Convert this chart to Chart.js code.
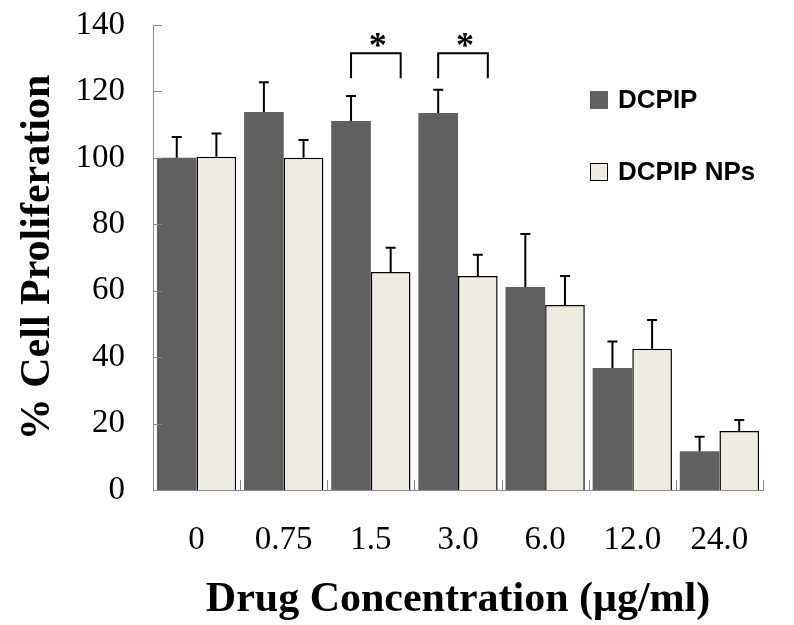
<!DOCTYPE html>
<html>
<head>
<meta charset="utf-8">
<script src="https://cdn.jsdelivr.net/npm/chart.js@4"></script>
<style>
  html, body { margin: 0; padding: 0; background: #fff; }
</style>
</head>
<body>
<canvas id="barchart" width="794" height="625"></canvas>
<script>
// data
const concentrations = ['0', '0.75', '1.5', '3.0', '6.0', '12.0', '24.0'];
const dcpip = [100, 113.8, 111.1, 113.5, 61.1, 36.7, 11.7];
const dcpipErr = [6.3, 9, 7.5, 7, 16, 8, 4.3];
const dcpipNPs = [100.3, 100, 65.6, 64.4, 55.7, 42.5, 17.8];
const dcpipNPsErr = [7, 5.4, 7.3, 6.4, 8.7, 8.7, 3.3];
const yTicks = [0, 20, 40, 60, 80, 100, 120, 140];
const sigGroups = ['1.5', '3.0']; // groups marked with *
const bracketTop = 131.5;
const bracketLeg = 124;

const serif = '"Liberation Serif", "Times New Roman", serif';

// error bars (upper only), significance brackets, inner ticks, legend
const extras = {
  id: 'extras',
  afterDatasetsDraw(chart) {
    const c = chart.ctx;
    const y = chart.scales.y;
    const area = chart.chartArea;
    c.save();

    // inner ticks on axes
    c.strokeStyle = '#888';
    c.lineWidth = 1;
    yTicks.forEach(v => {
      const py = Math.round(y.getPixelForValue(v)) + 0.5;
      c.beginPath(); c.moveTo(area.left, py); c.lineTo(area.left + 9, py); c.stroke();
    });
    for (let i = 1; i <= concentrations.length; i++) {
      const px = Math.round(area.left + (area.right - area.left) * i / concentrations.length) + 0.5;
      c.beginPath(); c.moveTo(px, area.bottom); c.lineTo(px, area.bottom - 10); c.stroke();
    }

    // error bars
    c.strokeStyle = '#000';
    c.lineWidth = 2;
    [dcpipErr, dcpipNPsErr].forEach((errs, di) => {
      const meta = chart.getDatasetMeta(di);
      const vals = chart.data.datasets[di].data;
      meta.data.forEach((bar, i) => {
        const top = y.getPixelForValue(vals[i]);
        const end = y.getPixelForValue(vals[i] + errs[i]);
        c.beginPath();
        c.moveTo(bar.x, top); c.lineTo(bar.x, end);
        c.moveTo(bar.x - 5, end); c.lineTo(bar.x + 5, end);
        c.stroke();
      });
    });

    // significance brackets
    const m0 = chart.getDatasetMeta(0), m1 = chart.getDatasetMeta(1);
    sigGroups.forEach(g => {
      const i = concentrations.indexOf(g);
      const x0 = m0.data[i].x, x1 = m1.data[i].x + 10;
      const yt = y.getPixelForValue(bracketTop), yl = y.getPixelForValue(bracketLeg);
      c.beginPath();
      c.moveTo(x0, yl); c.lineTo(x0, yt); c.lineTo(x1, yt); c.lineTo(x1, yl);
      c.stroke();
      c.fillStyle = '#000';
      c.font = 'bold 36px ' + serif;
      c.textAlign = 'center';
      c.textBaseline = 'middle';
      c.fillText('*', (x0 + x1) / 2 + 2, yt - 6);
    });

    // legend
    c.font = 'bold 26px "Liberation Sans", Arial, sans-serif';
    c.textAlign = 'left';
    c.textBaseline = 'middle';
    chart.data.datasets.forEach((ds, di) => {
      const ly = 100 + di * 72;
      c.fillStyle = ds.backgroundColor;
      c.fillRect(590, ly - 9, 18, 18);
      if (di === 1) {
        c.lineWidth = 1; c.strokeStyle = '#000';
        c.strokeRect(590.5, ly - 8.5, 17, 17);
      }
      c.fillStyle = '#000';
      c.fillText(ds.label, 618, ly + 1);
    });
    c.restore();
  }
};

const ctx = document.getElementById('barchart').getContext('2d');
const barchart = new Chart(ctx, {
  type: 'bar',
  data: {
    labels: concentrations,
    datasets: [{
      label: 'DCPIP',
      data: dcpip,
      backgroundColor: '#606060',
      borderWidth: 0,
      categoryPercentage: 0.91,
      barPercentage: 1.0
    }, {
      label: 'DCPIP NPs',
      data: dcpipNPs,
      backgroundColor: '#eeebe0',
      borderColor: '#000',
      borderWidth: 1.5,
      categoryPercentage: 0.91,
      barPercentage: 1.0
    }]
  },
  options: {
    responsive: false,
    animation: false,
    layout: { padding: { top: 25, right: 31, left: 0, bottom: 0 } },
    plugins: { legend: { display: false }, tooltip: { enabled: false } },
    scales: {
      x: {
        grid: { display: false, drawTicks: false },
        border: { color: '#888', width: 1 },
        ticks: { color: '#000', font: { family: serif, size: 33 }, padding: 31 },
        title: {
          display: true,
          text: 'Drug Concentration (μg/ml)',
          color: '#000',
          font: { family: serif, size: 42, weight: 'bold' },
          padding: { top: 0, bottom: 0 }
        },
        afterFit(scale) { scale.height = 135; }
      },
      y: {
        min: 0,
        max: 140,
        grid: { display: false, drawTicks: false },
        border: { color: '#888', width: 1 },
        ticks: {
          stepSize: 20,
          color: '#000',
          padding: 28,
          font: { family: serif, size: 33 },
          callback: function(value) { return value; }
        },
        title: {
          display: true,
          text: '% Cell Proliferation',
          color: '#000',
          font: { family: serif, size: 42, weight: 'bold' },
          padding: { top: 13, bottom: 0 }
        },
        afterFit(scale) {
          scale.width = 153;
          scale.paddingTop = 0; // keep plot top at the layout padding
        }
      }
    }
  },
  plugins: [extras]
});
</script>
</body>
</html>
